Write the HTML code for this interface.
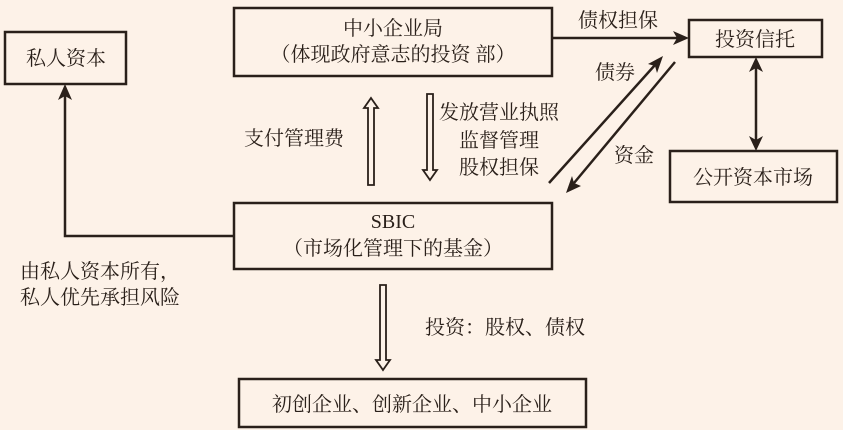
<!DOCTYPE html>
<html><head><meta charset="utf-8"><style>
html,body{margin:0;padding:0;background:#fdf2e8;}
svg{display:block}
text{font-family:"Liberation Serif","Noto Serif CJK SC","Noto Sans CJK SC",serif;fill:#2a201a;font-size:20px;}
</style></head><body>
<svg width="843" height="430" viewBox="0 0 843 430" xmlns="http://www.w3.org/2000/svg">
<rect width="843" height="430" fill="#fdf2e8"/>
<g fill="none" stroke="#2a201a" stroke-width="2.5">
<rect x="5" y="32" width="121" height="52"/>
<rect x="234" y="8" width="318" height="68"/>
<rect x="689" y="20" width="133" height="37"/>
<rect x="670" y="151" width="167" height="51"/>
<rect x="234" y="203" width="318" height="66"/>
<rect x="239" y="379" width="347" height="48"/>
<polyline points="234,236 65,236 65,96"/>
<line x1="552" y1="38" x2="678" y2="38"/>
<line x1="756" y1="68" x2="756" y2="140"/>
<line x1="549" y1="183" x2="655" y2="65"/>
<line x1="675" y1="62" x2="574" y2="183"/>
</g>
<g fill="#2a201a">
<polygon points="65,84 58,100 65,96 72,100"/>
<polygon points="689,38 673,31 677,38 673,45"/>
<polygon points="756,57 749,72 756,68 763,72"/>
<polygon points="756,151 749,136 756,140 763,136"/>
<polygon points="663,56 648,64 655,66 657,73"/>
<polygon points="566,193 581,186 574,183 572,176"/>
</g>
<g fill="#fdf2e8" stroke="#2a201a" stroke-width="1.8">
<polygon points="371,98 378,108 374,108 374,185 368,185 368,108 364,108"/>
<polygon points="430,180 437,170 433,170 433,94 427,94 427,170 423,170"/>
<polygon points="383,370 390,360 386,360 386,285 380,285 380,360 376,360"/>
</g>
<text x="66" y="65" text-anchor="middle">私人资本</text>
<text x="393" y="35" text-anchor="middle">中小企业局</text>
<text x="393" y="61" text-anchor="middle">（体现政府意志的投资 部）</text>
<text x="618" y="27" text-anchor="middle">债权担保</text>
<text x="755" y="46" text-anchor="middle">投资信托</text>
<text x="753" y="184" text-anchor="middle">公开资本市场</text>
<text x="615" y="79" text-anchor="middle">债券</text>
<text x="634" y="162" text-anchor="middle">资金</text>
<text x="294" y="145" text-anchor="middle">支付管理费</text>
<text x="499" y="119" text-anchor="middle">发放营业执照</text>
<text x="499" y="147" text-anchor="middle">监督管理</text>
<text x="499" y="174" text-anchor="middle">股权担保</text>
<text x="393" y="228" text-anchor="middle">SBIC</text>
<text x="393" y="255" text-anchor="middle">（市场化管理下的基金）</text>
<text x="20" y="278">由私人资本所有，</text>
<text x="20" y="304">私人优先承担风险</text>
<text x="425" y="334">投资：股权、债权</text>
<text x="412" y="411" text-anchor="middle">初创企业、创新企业、中小企业</text>
</svg>
</body></html>
